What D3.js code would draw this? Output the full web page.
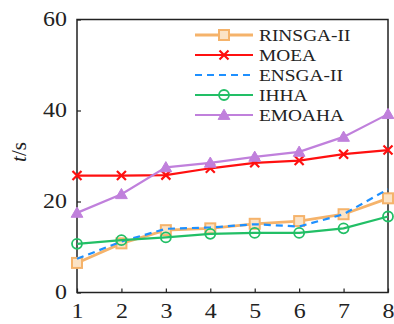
<!DOCTYPE html>
<html>
<head>
<meta charset="utf-8">
<script src="https://cdn.jsdelivr.net/npm/d3@7"></script>
<style>
  body { margin: 0; background: #fff; }
</style>
</head>
<body>
<div class="chart"></div>
<script>
var xValues = [1, 2, 3, 4, 5, 6, 7, 8];
var yTicks = [0, 20, 40, 60];
var names = ["RINSGA-II", "MOEA", "ENSGA-II", "IHHA", "EMOAHA"];
var rinsga = [6.5, 10.8, 13.7, 14.1, 15.1, 15.7, 17.2, 20.7];
var moea = [25.7, 25.7, 25.8, 27.3, 28.5, 29.0, 30.4, 31.3];
var ensga = [7.4, 11.2, 14.0, 14.3, 15.0, 14.5, 17.2, 22.7];
var ihha = [10.7, 11.5, 12.1, 12.9, 13.1, 13.1, 14.1, 16.7];
var emoaha = [17.5, 21.6, 27.5, 28.5, 29.8, 30.9, 34.2, 39.2];

var series = [
  {name: names[0], values: rinsga, color: "#F5B36B", marker: "square", dash: null},
  {name: names[1], values: moea, color: "#FF1010", marker: "cross", dash: null},
  {name: names[2], values: ensga, color: "#1E90FF", marker: "none", dash: "7,5"},
  {name: names[3], values: ihha, color: "#22BF66", marker: "circle", dash: null},
  {name: names[4], values: emoaha, color: "#C080DC", marker: "triangle", dash: null}
];

var w = 394, h = 324;
var padL = 77, padR = 388, padT = 19.5, padB = 292.5;
var serif = "'Liberation Serif', 'Times New Roman', serif";
var stretch = 1.14; // the picture is a bit wider than tall

var svg = d3.select(".chart").append("svg")
  .attr("width", w).attr("height", h);

var xScale = d3.scaleLinear().domain([1, 8]).range([padL, padR]);
var yScale = d3.scaleLinear().domain([0, 60]).range([padB, padT]);

// frame
svg.append("rect")
  .attr("x", padL).attr("y", padT)
  .attr("width", padR - padL).attr("height", padB - padT)
  .attr("fill", "none").attr("stroke", "#222").attr("stroke-width", 1.5);

var xAxis = d3.axisBottom(xScale).tickValues(xValues).tickFormat(d3.format("d")).tickSize(-4);
var yAxis = d3.axisLeft(yScale).tickValues(yTicks).tickSize(-4);

svg.append("g")
  .attr("transform", `translate(0,${padB})`)
  .call(xAxis)
  .call(g => {
    g.attr("font-family", serif).attr("font-size", 21);
    g.select(".domain").remove();
    g.selectAll("line").attr("stroke", "#222").attr("stroke-width", 1.2);
    g.selectAll("text").attr("fill", "#222").attr("y", 25.5).attr("dy", 0)
      .attr("transform", `scale(${stretch},1)`);
  });

svg.append("g")
  .attr("transform", `translate(${padL},0)`)
  .call(yAxis)
  .call(g => {
    g.attr("font-family", serif).attr("font-size", 21);
    g.select(".domain").remove();
    g.selectAll("line").attr("stroke", "#222").attr("stroke-width", 1.2);
    g.selectAll("text").attr("fill", "#222").attr("x", -10 / stretch).attr("dy", "0.3em")
      .attr("transform", `scale(${stretch},1)`);
  });

// y label
var yl = svg.append("text")
  .attr("transform", `translate(26,152) rotate(-90)`)
  .attr("text-anchor", "middle")
  .attr("font-family", serif)
  .attr("font-size", 21)
  .attr("fill", "#222");
yl.append("tspan").style("font-style", "italic").text("t");
yl.append("tspan").text("/s");

var line = d3.line()
  .x((d, i) => xScale(xValues[i]))
  .y(d => yScale(d));

function drawMarker(g, type, cx, cy, color) {
  if (type == "square") {
    g.append("rect").attr("x", cx - 5).attr("y", cy - 5).attr("width", 10).attr("height", 10)
      .attr("fill", "#fbe3c6").attr("stroke", color).attr("stroke-width", 2);
  } else if (type == "cross") {
    var s = 4.5;
    g.append("path").attr("d", `M${cx - s},${cy - s}L${cx + s},${cy + s}M${cx - s},${cy + s}L${cx + s},${cy - s}`)
      .attr("stroke", color).attr("stroke-width", 2.2).attr("fill", "none");
  } else if (type == "circle") {
    g.append("circle").attr("cx", cx).attr("cy", cy).attr("r", 5)
      .attr("fill", "none").attr("stroke", color).attr("stroke-width", 1.8);
  } else if (type == "triangle") {
    g.append("path").attr("d", d3.symbol().type(d3.symbolTriangle).size(60)())
      .attr("transform", `translate(${cx},${cy + 1})`)
      .attr("fill", color).attr("stroke", color).attr("stroke-width", 1);
  }
}

series.forEach(function(s) {
  var g = svg.append("g");
  g.append("path")
    .attr("d", line(s.values))
    .attr("fill", "none")
    .attr("stroke", s.color)
    .attr("stroke-width", s.marker == "square" ? 2.8 : 2.2)
    .attr("stroke-dasharray", s.dash);
  s.values.forEach(function(v, i) {
    drawMarker(g, s.marker, xScale(xValues[i]), yScale(v), s.color);
  });
});

// legend
var legend = svg.append("g").attr("transform", "translate(195,35)")
  .attr("font-family", serif).attr("font-size", 17);
series.forEach(function(s, i) {
  var row = legend.append("g").attr("transform", `translate(0,${i * 20})`);
  row.append("line").attr("x1", 0).attr("x2", 58).attr("y1", 0).attr("y2", 0)
    .attr("stroke", s.color).attr("stroke-width", s.marker == "square" ? 2.8 : 2.2)
    .attr("stroke-dasharray", s.dash);
  drawMarker(row, s.marker, 29, 0, s.color);
  row.append("text").attr("transform", `translate(64,0) scale(${stretch},1)`)
    .attr("dy", "0.34em").attr("fill", "#222").text(s.name);
});
</script>
</body>
</html>
